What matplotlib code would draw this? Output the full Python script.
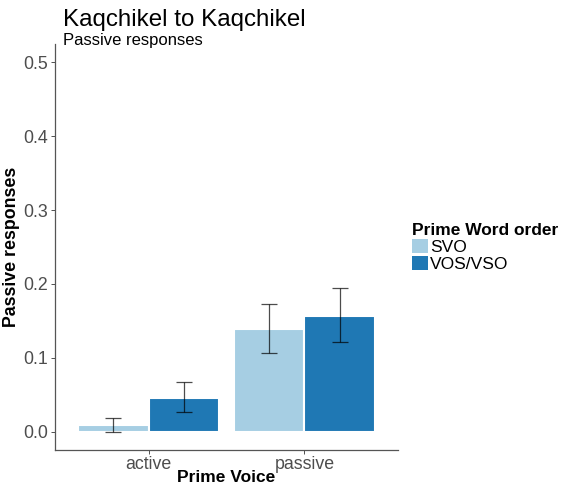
import numpy as np
import matplotlib.pyplot as plt
from matplotlib.patches import Patch

plt.rcParams['font.family'] = ['Liberation Sans', 'DejaVu Sans']

voices = ["active", "passive"]
orders = ["SVO", "VOS/VSO"]
means = {"SVO": [0.0095, 0.139], "VOS/VSO": [0.046, 0.157]}
lower = {"SVO": [0.0, 0.106], "VOS/VSO": [0.026, 0.121]}
upper = {"SVO": [0.0185, 0.173], "VOS/VSO": [0.067, 0.194]}
colors = {"SVO": "#A6CEE3", "VOS/VSO": "#1F78B4"}

fig = plt.figure(figsize=(5.62, 4.87), dpi=100)
ax = fig.add_axes([55/562, 1-450/487, (398-55)/562, (450-44)/487])

x = np.arange(1, len(voices)+1)
w = 0.45
for i, o in enumerate(orders):
    xs = x - w/2 + i*w
    m = np.array(means[o])
    ax.bar(xs, m, width=w, color=colors[o], edgecolor="white", linewidth=1.5, zorder=2)
    err = [m - np.array(lower[o]), np.array(upper[o]) - m]
    ax.errorbar(xs, m, yerr=err, fmt="none", ecolor="black", alpha=0.7,
                elinewidth=0.9, capsize=5.6, capthick=0.9, zorder=3)

ax.set_xlim(0.4, 2.6)
ax.set_ylim(-0.025, 0.525)
ax.set_xticks(x)
ax.set_xticklabels(voices)
ax.set_yticks([0, 0.1, 0.2, 0.3, 0.4, 0.5])
ax.set_yticklabels(["0.0", "0.1", "0.2", "0.3", "0.4", "0.5"])
ax.tick_params(labelsize=12.8, labelcolor="#4D4D4D", color="#333333", length=3, width=0.6, pad=2)
ax.tick_params(axis="x", pad=1)
for s in ["top", "right"]:
    ax.spines[s].set_visible(False)
for s in ["left", "bottom"]:
    ax.spines[s].set_color("#555555")
    ax.spines[s].set_linewidth(0.9)

ax.set_xlabel("Prime Voice", fontsize=12.5, fontweight="bold", labelpad=-2)
ax.set_ylabel("Passive responses", fontsize=12.8, fontweight="bold", labelpad=2)

fig.text(63/562, 1-20/487, "Kaqchikel to Kaqchikel", fontsize=17.4, va="center", ha="left")
fig.text(63/562, 1-41/487, "Passive responses", fontsize=12, va="center", ha="left")

handles = [Patch(facecolor=colors[o], edgecolor="none") for o in orders]
leg = fig.legend(handles, orders, loc="upper left", bbox_to_anchor=(405/562, 1-216/487),
                 frameon=False, fontsize=12.5, title="Prime Word order",
                 handlelength=0.9, handleheight=0.9, handletextpad=0.15,
                 labelspacing=0.05, borderaxespad=0, alignment="left")
leg.get_title().set_fontweight("bold")
leg.get_title().set_fontsize(12.5)

fig.savefig("out.png", dpi=100)
